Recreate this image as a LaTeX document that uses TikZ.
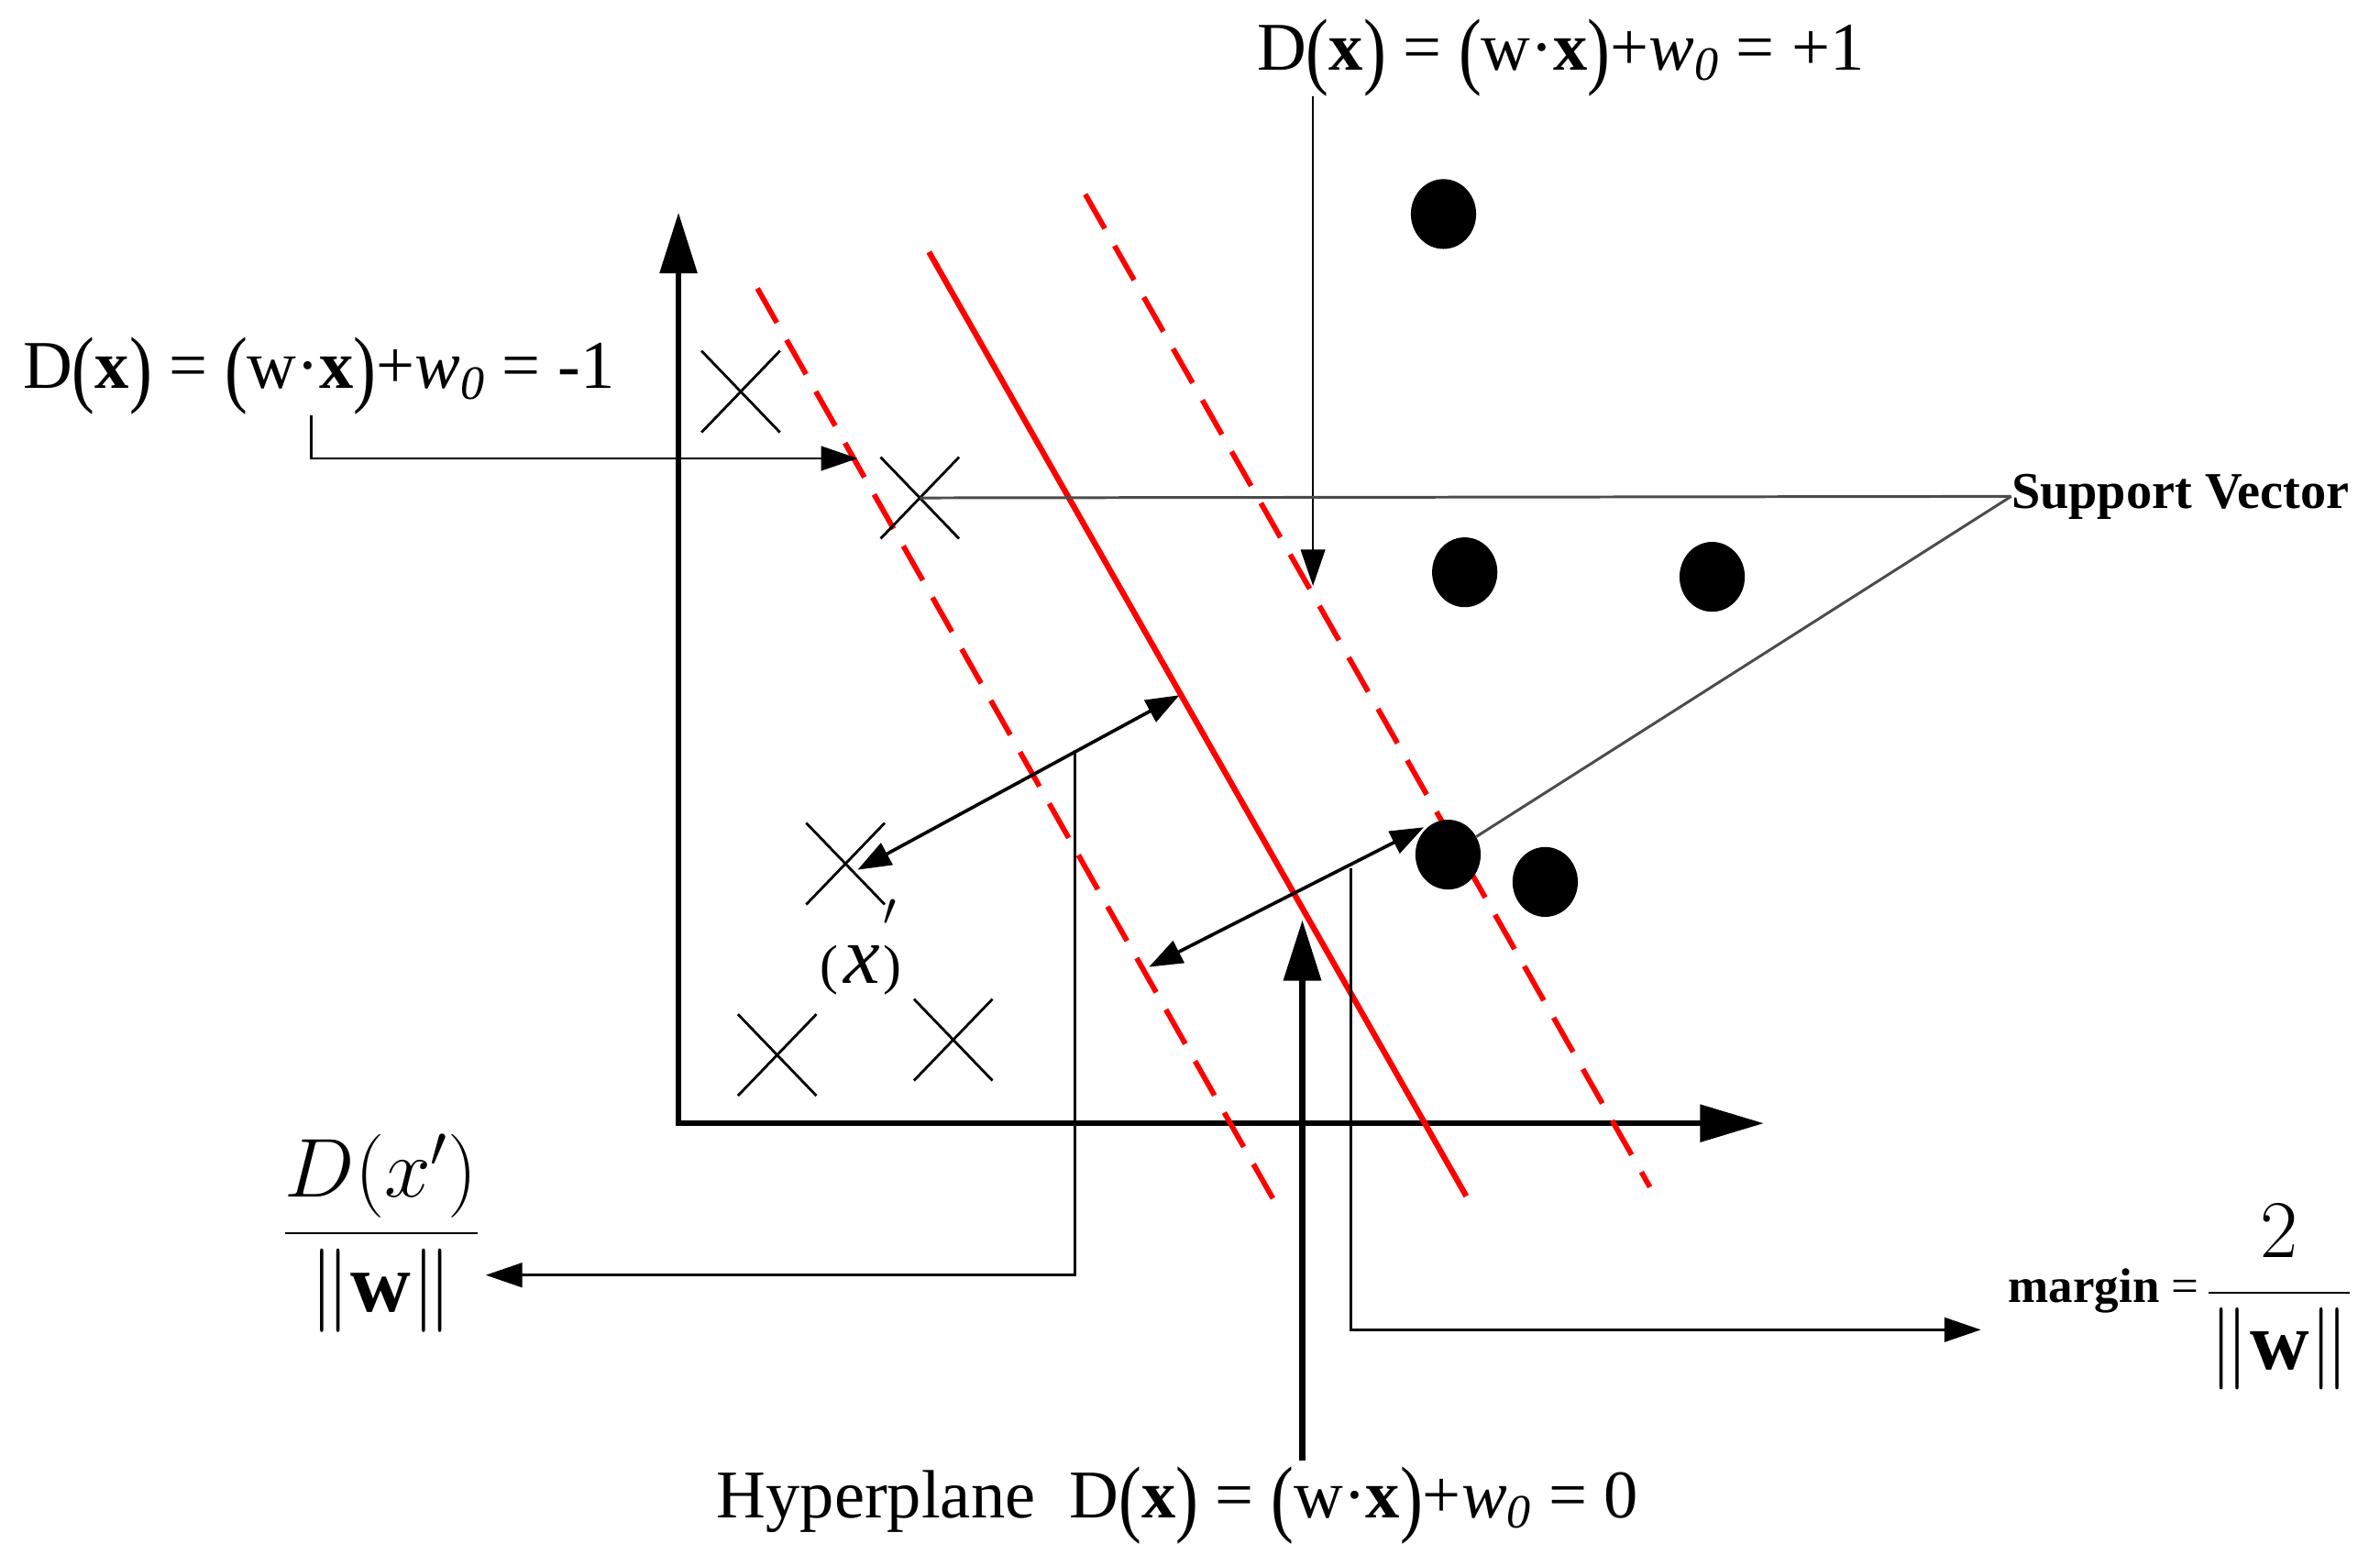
\RequirePackage{fix-cm}
\documentclass[tikz,border=0pt]{standalone}
\usepackage{amsmath}
\usepackage{graphicx}
\usepackage{fontspec}
\setmainfont{Liberation Serif}
\usetikzlibrary{arrows.meta,shapes.geometric,shapes.misc}
\newcommand\tallparen[1]{\raisebox{-0.12em}{\scalebox{1}[1.25]{#1}}}
\newcommand\dxeq[1]{D\tallparen{(}\textbf{x}\tallparen{)} = \tallparen{(}w·\textbf{x}\tallparen{)}+\textit{w}\textsubscript{\textit{0}} = #1}
\begin{document}
\begin{tikzpicture}[x=1pt,y=-1pt,
  eqlabel/.style={inner sep=0pt, font=\fontsize{45}{54}\selectfont, anchor=base west},
  ptcircle/.style={ellipse, fill=black, minimum width=43pt, minimum height=46pt, inner sep=0pt},
  crossmark/.style={cross out, draw=black, line width=1.7pt, minimum width=50pt, minimum height=52pt, inner sep=0pt},
  hyperline/.style={red, line width=3.8pt},
  marginline/.style={red, line width=3.5pt, dash pattern=on 26pt off 13pt},
  axisline/.style={line width=4pt},
  connector/.style={line width=1.6pt, -{Triangle[length=24pt,width=16pt]}},
  dblconnector/.style={line width=2.2pt, {Triangle[length=22pt,width=16pt]}-{Triangle[length=22pt,width=16pt]}},
  svline/.style={draw=black!70, line width=1.8pt},
  bigarrow/.style={line width=4.5pt, -{Triangle[length=40pt,width=24pt]}}
]
\useasboundingbox (0,0) rectangle (1568,1024);

% axes
\coordinate (origin) at (447,740);
\coordinate (ytop) at (447,140);
\coordinate (xend) at (1162,740);
\draw[axisline, {Triangle[length=40pt,width=24pt]}-{Triangle[length=42pt,width=24pt]}] (ytop) -- (origin) -- (xend);

% hyperplane and margins
\draw[hyperline] (612,166) -- (966,788);
\draw[marginline] (499,190) -- (840,792);
\draw[marginline] (715,128) -- (1087,782);

% class -1 points
\node[crossmark] (x1) at (488,258) {};
\node[crossmark] (x2) at (606,328) {};
\node[crossmark] (x3) at (557,569) {};
\node[crossmark] (x4) at (512,695) {};
\node[crossmark] (x5) at (628,685) {};

% class +1 points
\node[ptcircle] (c1) at (951,141) {};
\node[ptcircle] (c2) at (965,377) {};
\node[ptcircle] (c3) at (1128,380) {};
\node[ptcircle] (c4) at (954,563) {};
\node[ptcircle] (c5) at (1018,581) {};

% labels
\node[eqlabel] (lblp) at (828,46) {\dxeq{+1}};
\node[eqlabel] (lblm) at (15,256) {\dxeq{-1}};
\node[eqlabel] (hyp) at (472,1000) {Hyperplane\ \ \dxeq{0}};
\node[inner sep=0pt, anchor=west, font=\fontsize{34}{40}\selectfont\bfseries] (sv) at (1325,327) {Support Vector};
\node[inner sep=0pt] (xl) at (567,624) {\fontsize{36}{42}\selectfont(\hspace{4pt}{\fontsize{54}{64}\selectfont\textit{x}}\hspace{2pt}\rlap{\raisebox{22pt}{\fontsize{44}{52}\selectfont$'$}})};
\node[inner sep=0pt, anchor=base, font=\fontsize{55}{66}\selectfont] (dfrac) at (251,826)
  {$\dfrac{D{\left(x'\right)}}{\left\|\rule[-0.25em]{0pt}{0.95em}\mathbf{w}\right\|}$};
\node[inner sep=0pt, anchor=base west] (mg) at (1323,865)
  {\raisebox{7pt}{\fontsize{32}{38}\selectfont\textbf{margin} =\,}{\fontsize{54}{64}\selectfont$\dfrac{2}{\left\|\rule[-0.27em]{0pt}{1.02em}\mathbf{w}\right\|}$}};

% connectors
\coordinate (tp1) at (865,386);
\draw[connector] (tp1 |- lblp.south) -- (tp1);
\coordinate (lm0) at (205,302);
\coordinate (lm1) at (565,302);
\draw[connector] (lm0 |- lblm.south) -- (lm0) -- (lm1);

\draw[svline] (sv.west) -- (x2.center);
\draw[svline] (sv.west) -- (c4);

\coordinate (a1s) at (565,573);
\coordinate (a1e) at (777,458);
\draw[dblconnector] (a1s) -- (a1e);
\coordinate (a2s) at (757,637);
\coordinate (a2e) at (938,545);
\draw[dblconnector] (a2s) -- (a2e);

\coordinate (dxs) at (708,494);
\coordinate (dxt) at (320,840);
\draw[connector] (dxs) |- (dxt);
\coordinate (mgs) at (890,572);
\coordinate (mgt) at (1305,876);
\draw[connector] (mgs) |- (mgt);

\coordinate (hps) at (858,962);
\coordinate (hpt) at (858,606);
\draw[bigarrow] (hps) -- (hpt);
\end{tikzpicture}
\end{document}
